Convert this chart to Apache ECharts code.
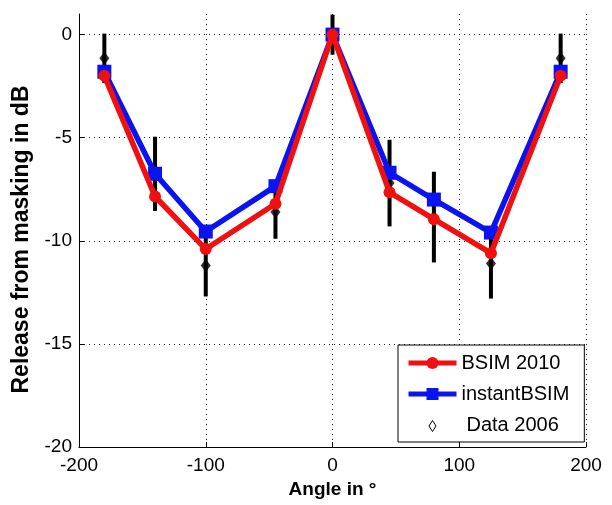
<!DOCTYPE html>
<html>
<head>
<meta charset="utf-8">
<script src="https://cdn.jsdelivr.net/npm/echarts@6/dist/echarts.min.js"></script>
<style>
  html, body { margin: 0; padding: 0; background: #fff; }
  #chart { width: 612px; height: 505px; }
</style>
</head>
<body>
<div id="chart"></div>
<script>
// Azimuth angles of the sound source (degrees)
const angles = [-180, -140, -100, -45, 0, 45, 80, 125, 180];
// Model predictions: release from masking (dB)
const bsim2010 = [-2.0, -7.85, -10.4, -8.2, 0, -7.65, -8.95, -10.6, -2.0];
const instantBsim = [-1.8, -6.75, -9.55, -7.35, 0, -6.7, -8.0, -9.6, -1.8];
// Measured data: means and error-bar half-lengths (dB)
const data2006 = [-1.15, -6.75, -11.2, -8.6, 0, -7.2, -8.85, -11.1, -1.15];
const data2006Err = [1.2, 1.8, 1.5, 1.3, 0.97, 2.1, 2.2, 1.7, 1.2];
// Axis ticks
const xTicks = [-200, -100, 0, 100, 200];
const yTicks = [-20, -15, -10, -5, 0];

const FONT = "'Liberation Sans', Arial, sans-serif";

const pairs = (ys) => angles.map((a, i) => [a, ys[i]]);
const errRows = angles.map((a, i) => [a, data2006[i], data2006Err[i]]);

const chart = echarts.init(document.getElementById('chart'), null, { renderer: 'canvas' });

const option = {
  backgroundColor: '#fff',
  animation: false,
  textStyle: { fontFamily: FONT },
  grid: {
    left: 79, right: 26, top: 14, bottom: 58,
    containLabel: false,
    outerBoundsMode: 'none'
  },
  legend: {
    orient: 'vertical',
    left: 398,
    top: 345,
    backgroundColor: '#fff',
    borderColor: '#000',
    borderWidth: 1,
    borderRadius: 0,
    padding: [8, 15, 7, 8],
    itemGap: 11,
    itemWidth: 48,
    itemHeight: 15,
    lineStyle: { width: 5 },
    textStyle: { fontSize: 20, color: '#000', fontFamily: FONT },
    data: [
      'BSIM 2010',
      'instantBSIM',
      {
        name: 'Data 2006',
        icon: 'path://M0,-2M7,13M3.5,1L7,6.5L3.5,12L0,6.5Z',
        itemStyle: { color: '#fff', borderColor: '#000', borderWidth: 1 },
        textStyle: { padding: [0, 0, 0, 5] }
      }
    ]
  },
  xAxis: {
    type: 'value',
    min: -200,
    max: 200,
    interval: 100,
    name: 'Angle in °',
    nameLocation: 'middle',
    nameGap: 33,
    nameTextStyle: { fontSize: 19, fontWeight: 'bold', color: '#000', fontFamily: FONT },
    axisLine: { show: true, onZero: false, lineStyle: { color: '#000', width: 1 } },
    axisTick: { show: true, inside: true, length: 5, lineStyle: { color: '#000' }, customValues: xTicks },
    axisLabel: { fontSize: 19, color: '#000', margin: 9, fontFamily: FONT, customValues: xTicks },
    splitLine: { show: true, lineStyle: { color: '#222', width: 1, type: [1, 4] } }
  },
  yAxis: {
    type: 'value',
    min: -20,
    max: 1,
    interval: 5,
    name: 'Release from masking in dB',
    nameLocation: 'middle',
    nameGap: 46,
    nameTextStyle: { fontSize: 23, fontWeight: 'bold', color: '#000', fontFamily: FONT, padding: [0, 18, 0, 0] },
    axisLine: { show: true, onZero: false, lineStyle: { color: '#000', width: 1 } },
    axisTick: { show: true, inside: true, length: 5, lineStyle: { color: '#000' }, customValues: yTicks },
    axisLabel: { fontSize: 19, color: '#000', margin: 7, fontFamily: FONT, customValues: yTicks },
    splitLine: {
      show: true,
      // last entry hides the line at the top edge of the axis (value 1)
      lineStyle: { color: ['#222', '#222', '#222', '#222', '#222', 'rgba(0,0,0,0)'], width: 1, type: [1, 4] }
    }
  },
  series: [
    {
      name: 'Data 2006',
      type: 'custom',
      z: 1,
      encode: { x: 0, y: 1 },
      data: errRows,
      renderItem: function (params, api) {
        const x = api.value(0);
        const m = api.value(1);
        const e = api.value(2);
        const top = api.coord([x, m + e]);
        const bot = api.coord([x, m - e]);
        return {
          type: 'line',
          shape: { x1: top[0], y1: top[1], x2: bot[0], y2: bot[1] },
          style: { stroke: '#000', lineWidth: 4 }
        };
      }
    },
    {
      name: 'Data 2006',
      type: 'scatter',
      z: 2,
      symbol: 'diamond',
      symbolSize: [10, 13],
      itemStyle: { color: '#000' },
      data: pairs(data2006)
    },
    {
      name: 'instantBSIM',
      type: 'line',
      z: 3,
      symbol: 'rect',
      symbolSize: 14,
      showAllSymbol: true,
      color: '#0a14f0',
      lineStyle: { color: '#0a14f0', width: 5.5 },
      itemStyle: { color: '#0a14f0' },
      data: pairs(instantBsim)
    },
    {
      name: 'BSIM 2010',
      type: 'line',
      z: 4,
      symbol: 'circle',
      symbolSize: 12,
      showAllSymbol: true,
      color: '#f01010',
      lineStyle: { color: '#f01010', width: 5.5 },
      itemStyle: { color: '#f01010' },
      data: pairs(bsim2010)
    }
  ]
};

chart.setOption(option);
</script>
</body>
</html>
